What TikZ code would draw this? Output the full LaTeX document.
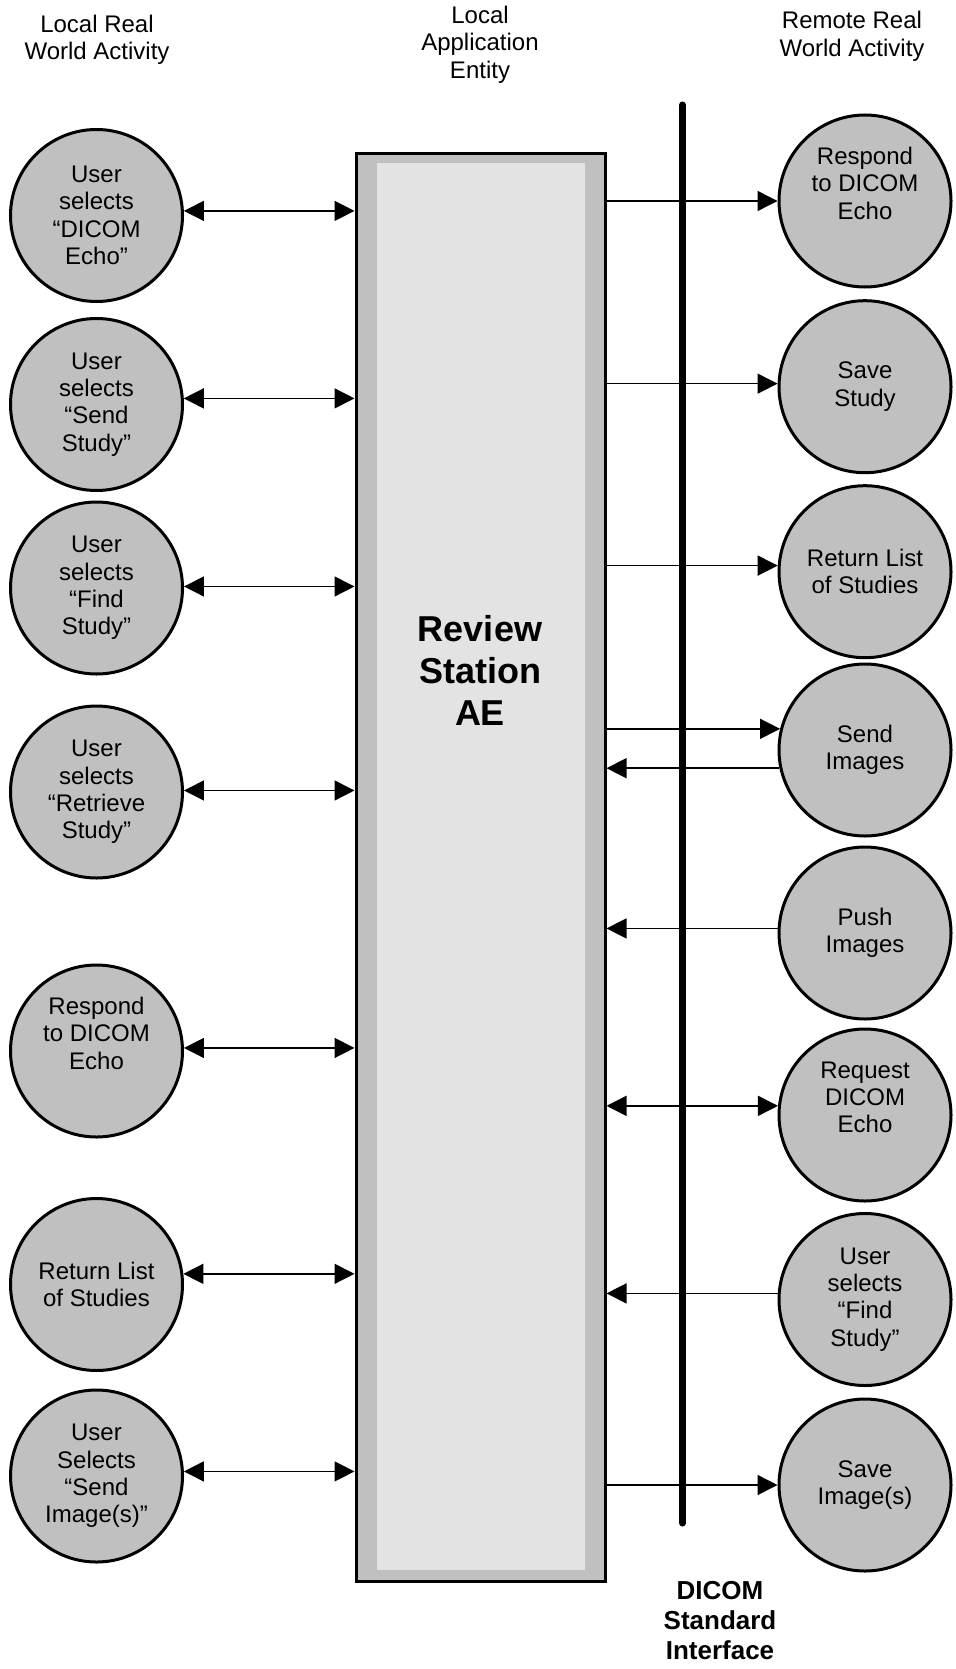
\documentclass[tikz,border=0pt]{standalone}
\usepackage{fontspec}
\setmainfont{Liberation Sans}
\usetikzlibrary{arrows.meta}
\definecolor{cgray}{RGB}{192,192,192}
\definecolor{clight}{RGB}{227,227,227}
\tikzset{
  act/.style={circle, draw, line width=1.5pt, fill=cgray, minimum size=86pt,
    inner sep=0pt, align=center, font=\fontsize{12}{13.7}\selectfont},
  hdr/.style={align=center, inner sep=0pt, font=\fontsize{12}{13.7}\selectfont},
  tip/.tip={Triangle[length=10pt,width=10pt]},
  flow/.style={line width=0.7pt, -tip},
  flowboth/.style={line width=0.7pt, tip-tip},
}
\begin{document}
\begin{tikzpicture}[x=0.5pt, y=-0.5pt]
\useasboundingbox (0,0) rectangle (955,1669);

% headers
\node[hdr] (hL) at (97,39.5) {Local Real\\World Activity};
\node[hdr] (hC) at (480,44.7) {Local\\Application\\Entity};
\node[hdr] (hR) at (852,36.3) {Remote Real\\World Activity};

% interface bar
\coordinate (bartop) at (682.5,105);
\coordinate (barbot) at (682.5,1523);
\draw[line width=3.5pt, line cap=round] (bartop) -- (barbot);

% central AE
\node[draw, line width=1.5pt, fill=cgray, minimum width=124.5pt, minimum height=713.85pt, inner sep=0pt] (box) at (480.5,867.2) {};
\node[fill=clight, minimum width=104.15pt, minimum height=703.35pt, inner sep=0pt] (inner) at (480.85,866.65) {};
\node[align=center, inner sep=0pt, font=\fontsize{18}{21}\selectfont\bfseries] (title) at (480,670) {Review\\Station\\AE};

\node[align=center, inner sep=0pt, font=\fontsize{13}{15}\selectfont\bfseries] (iface) at (720,1621) {DICOM\\Standard\\Interface};

% local activities
\node[act] (L1) at (96.5,215.5) {User\\selects\\“DICOM\\Echo”};
\node[act] (L2) at (96.5,404.5) {User\\selects\\“Send\\Study”};
\node[act] (L3) at (96.5,588) {User\\selects\\“Find\\Study”};
\node[act] (L4) at (96.5,792) {User\\selects\\“Retrieve\\Study”};
\node[act] (L5) at (96.5,1051) {Respond\\to DICOM\\Echo\\\strut};
\node[act] (L6) at (96.5,1284.5) {Return List\\of Studies};
\node[act] (L7) at (96.5,1476) {User\\Selects\\“Send\\Image(s)”};

% remote activities
\node[act] (R1) at (865,201) {Respond\\to DICOM\\Echo\\\strut};
\node[act] (R2) at (865,386.7) {Save\\Study};
\node[act] (R3) at (865,571.7) {Return List\\of Studies};
\node[act] (R4) at (865,750) {Send\\Images};
\node[act] (R5) at (865,933) {Push\\Images};
\node[act] (R6) at (865,1115) {Request\\DICOM\\Echo\\\strut};
\node[act] (R7) at (865,1299.5) {User\\selects\\“Find\\Study”};
\node[act] (R8) at (865,1485) {Save\\Image(s)};

% local connectors
\draw[flowboth] (L1.3.6) -- (box.west |- L1.3.6);
\draw[flowboth] (L2.4.26) -- (box.west |- L2.4.26);
\draw[flowboth] (L3.1) -- (box.west |- L3.1);
\draw[flowboth] (L4.1.3) -- (box.west |- L4.1.3);
\draw[flowboth] (L5.2) -- (box.west |- L5.2);
\draw[flowboth] (L6.7.55) -- (box.west |- L6.7.55);
\draw[flowboth] (L7.3.93) -- (box.west |- L7.3.93);

% remote connectors
\draw[flow] (box.east |- R1.180) -- (R1.180);
\draw[flow] (box.east |- R2.178.9) -- (R2.178.9);
\draw[flow] (box.east |- R3.176.9) -- (R3.176.9);
\draw[flow] (box.east |- R4.166.8) -- (R4.166.8);
\draw[flow] (R4.192.55) -- (box.east |- R4.192.55);
\draw[flow] (R5.177.4) -- (box.east |- R5.177.4);
\draw[flowboth] (box.east |- R6.174.75) -- (R6.174.75);
\draw[flow] (R7.176.4) -- (box.east |- R7.176.4);
\draw[flow] (box.east |- R8.180.65) -- (R8.180.65);
\end{tikzpicture}
\end{document}
